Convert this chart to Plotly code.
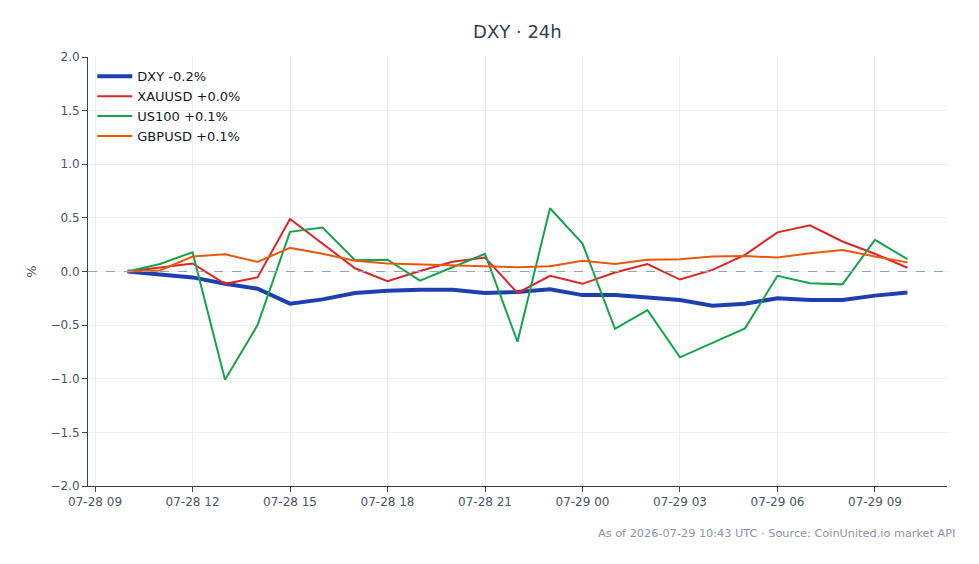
import plotly.graph_objects as go
import pandas as pd

times = pd.date_range("2026-07-28 10:00", "2026-07-29 10:00", freq="1h")

dxy = [0.0, -0.03, -0.055, -0.115, -0.16, -0.30, -0.26, -0.20, -0.18, -0.17, -0.17, -0.20, -0.19,
       -0.165, -0.22, -0.22, -0.245, -0.265, -0.32, -0.30, -0.25, -0.265, -0.265, -0.225, -0.195]
xauusd = [0.0, 0.04, 0.075, -0.115, -0.055, 0.49, 0.26, 0.03, -0.09, 0.005, 0.09, 0.13, -0.20,
          -0.04, -0.115, -0.01, 0.07, -0.075, 0.015, 0.155, 0.365, 0.43, 0.28, 0.165, 0.035]
us100 = [0.0, 0.07, 0.18, -1.01, -0.50, 0.37, 0.41, 0.105, 0.11, -0.085, 0.04, 0.165, -0.655,
         0.59, 0.26, -0.535, -0.36, -0.80, -0.665, -0.53, -0.04, -0.11, -0.12, 0.295, 0.115]
gbpusd = [0.0, 0.01, 0.14, 0.16, 0.09, 0.22, 0.165, 0.10, 0.075, 0.065, 0.06, 0.05, 0.04,
          0.05, 0.10, 0.07, 0.11, 0.115, 0.14, 0.145, 0.13, 0.17, 0.20, 0.14, 0.085]

series = [
    ("DXY -0.2%", dxy, "#1e40af", 4),
    ("XAUUSD +0.0%", xauusd, "#dc2626", 2),
    ("US100 +0.1%", us100, "#16a34a", 2),
    ("GBPUSD +0.1%", gbpusd, "#ea580c", 2),
]

font = "DejaVu Sans, sans-serif"
fig = go.Figure()
for name, vals, color, w in series:
    fig.add_trace(go.Scatter(x=times, y=vals, mode="lines", name=name,
                             line=dict(color=color, width=w)))

fig.add_hline(y=0, line=dict(color="#94a3b8", width=1.2, dash="dash"))

fig.update_layout(
    width=979, height=564,
    margin=dict(l=88, r=32, t=57, b=78),
    paper_bgcolor="white", plot_bgcolor="white",
    font=dict(family=font, size=12, color="#475569"),
    title=dict(text="DXY · 24h", x=0.5285, xanchor="center", y=0.943, yanchor="middle",
               font=dict(family=font, size=18, color="#334155")),
    legend=dict(x=0.005, y=0.99, xanchor="left", yanchor="top", itemwidth=35,
                bgcolor="rgba(255,255,255,0)", font=dict(family=font, size=13, color="#111827")),
    showlegend=True,
)
fig.update_xaxes(
    range=["2026-07-28 08:47", "2026-07-29 11:13"],
    tickformat="%m-%d %H", dtick=3 * 3600 * 1000, tick0="2026-07-28 00:00",
    showgrid=True, gridcolor="#eef0f4", showline=True, linecolor="#334155", linewidth=1,
    ticks="outside", ticklen=5, tickcolor="#334155", zeroline=False,
    tickfont=dict(size=12, color="#475569"),
)
fig.update_yaxes(
    range=[-2, 2], dtick=0.5, tickformat=".1f",
    title=dict(text="%", font=dict(size=13, color="#475569"), standoff=10),
    showgrid=True, gridcolor="#eef0f4", showline=True, linecolor="#334155", linewidth=1,
    ticks="outside", ticklen=5, tickcolor="#334155", zeroline=False,
    tickfont=dict(size=12, color="#475569"),
)
fig.add_annotation(text="As of 2026-07-29 10:43 UTC · Source: CoinUnited.io market API",
                   xref="paper", yref="paper", x=1.0115, y=-0.11, xanchor="right", yanchor="middle",
                   showarrow=False, font=dict(family=font, size=11.3, color="#8a94a6"))

fig.write_html("out.html")
